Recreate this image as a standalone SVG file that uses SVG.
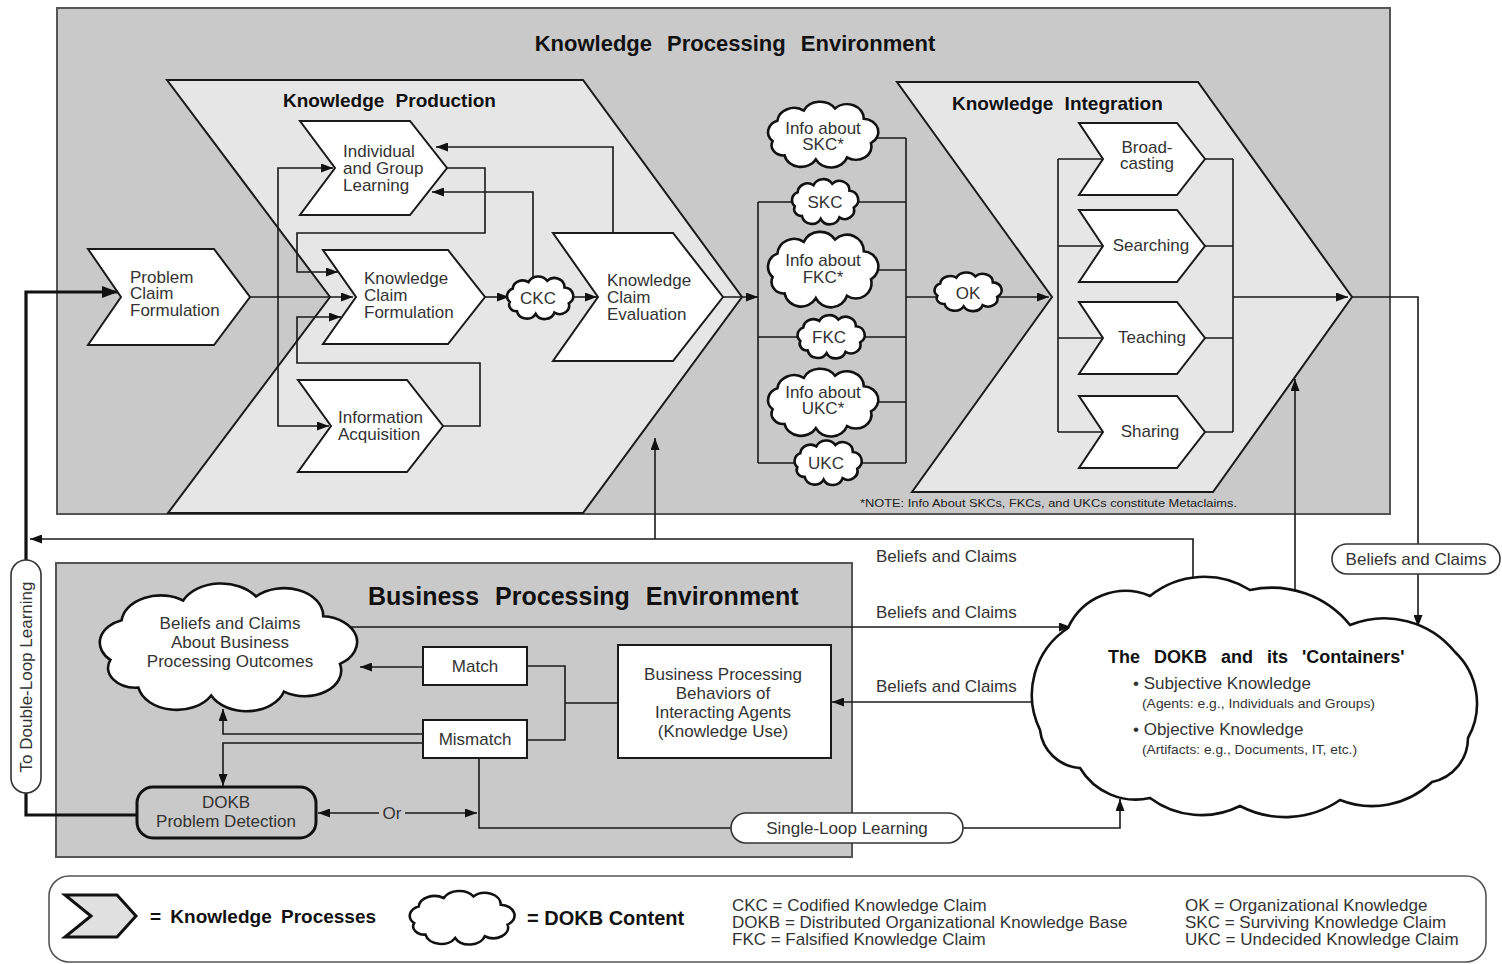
<svg xmlns="http://www.w3.org/2000/svg" xmlns:xlink="http://www.w3.org/1999/xlink" width="1502" height="964" viewBox="0 0 1502 964">
  <defs>
    <style>
      .ln{fill:none;stroke:#1a1a1a;stroke-width:1.6}
      .thick{fill:none;stroke:#111;stroke-width:3.2}
      .chev{fill:#fff;stroke:#1a1a1a;stroke-width:2}
      .big{fill:#e6e6e6;stroke:#1a1a1a;stroke-width:2}
      .env{fill:#c9c9c9;stroke:#555;stroke-width:2}
      .box{fill:#fff;stroke:#1a1a1a;stroke-width:2}
      .pill{fill:#fff;stroke:#333;stroke-width:1.6}
      .cl{fill:#fff;stroke:#111;stroke-width:2.6}
      .t{font-family:"Liberation Sans",Arial,sans-serif;font-size:17px;fill:#333}
      .c{text-anchor:middle}
      .b{font-weight:bold;fill:#111}
      .sm{font-size:12px}
    </style>
    <marker id="ah" markerUnits="userSpaceOnUse" markerWidth="12" markerHeight="9" refX="12" refY="4.5" orient="auto">
      <path d="M0,0 L12,4.5 L0,9 z" fill="#111"/>
    </marker>
    <marker id="ahb" markerUnits="userSpaceOnUse" markerWidth="16" markerHeight="12" refX="16" refY="6" orient="auto">
      <path d="M0,0 L16,6 L0,12 z" fill="#111"/>
    </marker>
    <!-- unit cloud centred on the origin, about 92 x 64 -->
    <path id="cloud" d="M-42,6 A12,12 0 0 1 -38,-14 A14,14 0 0 1 -16,-24 A15,15 0 0 1 10,-26 A14,14 0 0 1 34,-16 A13,13 0 0 1 40,8 A13,13 0 0 1 20,22 A14,14 0 0 1 -6,24 A14,14 0 0 1 -32,20 A10,10 0 0 1 -42,6 Z" vector-effect="non-scaling-stroke"/>
  </defs>

  <rect width="1502" height="964" fill="#fff"/>

  <!-- Knowledge Processing Environment container -->
  <g id="kpe">
    <rect class="env" x="57" y="8" width="1333" height="506"/>
    <text class="t b c" x="735" y="51" style="font-size:22px" word-spacing="9">Knowledge Processing Environment</text>
  </g>

  <!-- Knowledge Production stage -->
  <g id="knowledge-production">
    <polygon class="big" points="167,80 583,80 742,297 583,513 168,513 330,297"/>
    <text class="t b" x="283" y="107" style="font-size:19px" word-spacing="6">Knowledge Production</text>
  </g>

  <!-- Knowledge Integration stage -->
  <g id="knowledge-integration">
    <polygon class="big" points="897,82 1198,82 1352,297 1213,492 912,492 1052,297"/>
    <text class="t b" x="952" y="110" style="font-size:19px" word-spacing="6">Knowledge Integration</text>
  </g>
  <text class="t" x="860" y="507" style="font-size:11px;fill:#222" textLength="377" lengthAdjust="spacingAndGlyphs">*NOTE: Info About SKCs, FKCs, and UKCs constitute Metaclaims.</text>

  <!-- Business Processing Environment container -->
  <g id="bpe">
    <rect class="env" x="56" y="563" width="796" height="294"/>
    <text class="t b" x="368" y="605" style="font-size:25px" word-spacing="9">Business Processing Environment</text>
  </g>

  <!-- connectors -->
  <g id="connectors">
    <!-- inside Knowledge Production -->
    <path class="ln" d="M250,297 H353" marker-end="url(#ah)"/>
    <path class="ln" d="M278,297 V168 H333" marker-end="url(#ah)"/>
    <path class="ln" d="M278,297 V426 H329" marker-end="url(#ah)"/>
    <path class="ln" d="M447,168 H485 V233 H297 V272 H338" marker-end="url(#ah)"/>
    <path class="ln" d="M443,426 H480 V363 H297 V317 H341" marker-end="url(#ah)"/>
    <path class="ln" d="M485,297 H509" marker-end="url(#ah)"/>
    <path class="ln" d="M570,297 H597" marker-end="url(#ah)"/>
    <path class="ln" d="M533,285 V192 H432" marker-end="url(#ah)"/>
    <path class="ln" d="M613,233 V147 H436" marker-end="url(#ah)"/>
    <path class="ln" d="M723,297 H758" marker-end="url(#ah)"/>

    <!-- claim bracket -->
    <path class="ln" d="M758,202 V463 M758,202 H800 M758,337 H805 M758,463 H805"/>
    <path class="ln" d="M906,138 V463 M860,138 H906 M845,202 H906 M860,270 H906 M850,337 H906 M860,402 H906 M850,463 H906"/>
    <path class="ln" d="M906,297 H945"/>
    <path class="ln" d="M995,297 H1049" marker-end="url(#ah)"/>

    <!-- inside Knowledge Integration -->
    <path class="ln" d="M1058,159 V432 M1058,159 H1103 M1058,246 H1103 M1058,338 H1103 M1058,432 H1103"/>
    <path class="ln" d="M1233,159 V432 M1205,159 H1233 M1205,246 H1233 M1205,338 H1233 M1205,432 H1233"/>
    <path class="ln" d="M1233,297 H1348" marker-end="url(#ah)"/>
    <path class="ln" d="M1352,297 H1418 V627" marker-end="url(#ah)"/>

    <!-- between environments and the DOKB -->
    <path class="ln" d="M1295,610 V379" marker-end="url(#ah)"/>
    <path class="ln" d="M1193,600 V539 H30" marker-end="url(#ah)"/>
    <path class="ln" d="M655,539 V438" marker-end="url(#ah)"/>
    <path class="thick" d="M138,815 H26 V292 H118" marker-end="url(#ahb)"/>
    <path class="ln" d="M340,627 H1071" marker-end="url(#ah)"/>
    <path class="ln" d="M1060,702 H832" marker-end="url(#ah)"/>

    <!-- inside Business Processing -->
    <path class="ln" d="M423,667 H360" marker-end="url(#ah)"/>
    <path class="ln" d="M423,734 H223 V709" marker-end="url(#ah)"/>
    <path class="ln" d="M423,743 H223 V786" marker-end="url(#ah)"/>
    <path class="ln" d="M527,666 H565 V740 H527 M565,703 H618"/>
    <path class="ln" d="M379,813 H318" marker-end="url(#ah)"/>
    <path class="ln" d="M405,813 H477" marker-end="url(#ah)"/>
    <path class="ln" d="M479,758 V828 H1120 V799" marker-end="url(#ah)"/>

    <text class="t" x="392" y="819" style="text-anchor:middle">Or</text>
    <text class="t" x="876" y="562">Beliefs and Claims</text>
    <text class="t" x="876" y="618">Beliefs and Claims</text>
    <text class="t" x="876" y="692">Beliefs and Claims</text>
  </g>

  <!-- knowledge process nodes -->
  <g id="problem-claim-formulation">
    <polygon class="chev" points="88,249 214,249 250,297 214,345 88,345 121,297"/>
    <text class="t" x="130" y="283">Problem</text>
    <text class="t" x="130" y="299">Claim</text>
    <text class="t" x="130" y="316">Formulation</text>
  </g>
  <g id="individual-group-learning">
    <polygon class="chev" points="300,121 410,121 447,168 410,215 300,215 335,168"/>
    <text class="t" x="343" y="157">Individual</text>
    <text class="t" x="343" y="174">and Group</text>
    <text class="t" x="343" y="191">Learning</text>
  </g>
  <g id="knowledge-claim-formulation">
    <polygon class="chev" points="323,250 448,250 485,297 448,344 323,344 356,297"/>
    <text class="t" x="364" y="284">Knowledge</text>
    <text class="t" x="364" y="301">Claim</text>
    <text class="t" x="364" y="318">Formulation</text>
  </g>
  <g id="information-acquisition">
    <polygon class="chev" points="298,380 407,380 443,426 407,472 298,472 331,426"/>
    <text class="t" x="338" y="423">Information</text>
    <text class="t" x="338" y="440">Acquisition</text>
  </g>
  <g id="knowledge-claim-evaluation">
    <polygon class="chev" points="553,233 673,233 723,297 673,361 553,361 598,297"/>
    <text class="t" x="607" y="286">Knowledge</text>
    <text class="t" x="607" y="303">Claim</text>
    <text class="t" x="607" y="320">Evaluation</text>
  </g>
  <g id="broadcasting">
    <polygon class="chev" points="1079,123 1177,123 1205,159 1177,195 1079,195 1103,159"/>
    <text class="t c" x="1147" y="153">Broad-</text>
    <text class="t c" x="1147" y="169">casting</text>
  </g>
  <g id="searching">
    <polygon class="chev" points="1079,210 1177,210 1205,246 1177,282 1079,282 1103,246"/>
    <text class="t c" x="1151" y="251">Searching</text>
  </g>
  <g id="teaching">
    <polygon class="chev" points="1079,302 1177,302 1205,338 1177,374 1079,374 1103,338"/>
    <text class="t c" x="1152" y="343">Teaching</text>
  </g>
  <g id="sharing">
    <polygon class="chev" points="1079,396 1177,396 1205,432 1177,468 1079,468 1103,432"/>
    <text class="t c" x="1150" y="437">Sharing</text>
  </g>

  <!-- DOKB content clouds -->
  <g id="ckc">
    <use xlink:href="#cloud" href="#cloud" class="cl" transform="translate(540,298) scale(0.72,0.66)"/>
    <text class="t c" x="538" y="304">CKC</text>
  </g>
  <g id="info-skc">
    <use xlink:href="#cloud" href="#cloud" class="cl" transform="translate(823,135) scale(1.2,1.02)"/>
    <text class="t c" x="823" y="134">Info about</text>
    <text class="t c" x="823" y="150">SKC*</text>
  </g>
  <g id="skc">
    <use xlink:href="#cloud" href="#cloud" class="cl" transform="translate(825,202) scale(0.72,0.7)"/>
    <text class="t c" x="825" y="208">SKC</text>
  </g>
  <g id="info-fkc">
    <use xlink:href="#cloud" href="#cloud" class="cl" transform="translate(823,270) scale(1.2,1.17)"/>
    <text class="t c" x="823" y="266">Info about</text>
    <text class="t c" x="823" y="283">FKC*</text>
  </g>
  <g id="fkc">
    <use xlink:href="#cloud" href="#cloud" class="cl" transform="translate(831,337) scale(0.73,0.67)"/>
    <text class="t c" x="829" y="343">FKC</text>
  </g>
  <g id="info-ukc">
    <use xlink:href="#cloud" href="#cloud" class="cl" transform="translate(823,403) scale(1.2,1.05)"/>
    <text class="t c" x="823" y="398">Info about</text>
    <text class="t c" x="823" y="414">UKC*</text>
  </g>
  <g id="ukc">
    <use xlink:href="#cloud" href="#cloud" class="cl" transform="translate(828,463) scale(0.73,0.69)"/>
    <text class="t c" x="826" y="469">UKC</text>
  </g>
  <g id="ok">
    <use xlink:href="#cloud" href="#cloud" class="cl" transform="translate(968,292) scale(0.73,0.6)"/>
    <text class="t c" x="968" y="299">OK</text>
  </g>

  <!-- business processing nodes -->
  <g id="beliefs-outcomes">
    <use xlink:href="#cloud" href="#cloud" class="cl" transform="translate(228,648) scale(2.8,1.98)"/>
    <text class="t c" x="230" y="629">Beliefs and Claims</text>
    <text class="t c" x="230" y="648">About Business</text>
    <text class="t c" x="230" y="667">Processing Outcomes</text>
  </g>
  <g id="match">
    <rect class="box" x="423" y="647" width="104" height="38"/>
    <text class="t c" x="475" y="672">Match</text>
  </g>
  <g id="mismatch">
    <rect class="box" x="423" y="720" width="104" height="38"/>
    <text class="t c" x="475" y="745">Mismatch</text>
  </g>
  <g id="business-behaviors">
    <rect class="box" x="618" y="645" width="213" height="113"/>
    <text class="t c" x="723" y="680">Business Processing</text>
    <text class="t c" x="723" y="699">Behaviors of</text>
    <text class="t c" x="723" y="718">Interacting Agents</text>
    <text class="t c" x="723" y="737">(Knowledge Use)</text>
  </g>
  <g id="problem-detection">
    <rect x="137" y="787" width="179" height="51" rx="16" fill="#c9c9c9" stroke="#111" stroke-width="3"/>
    <text class="t c" x="226" y="808">DOKB</text>
    <text class="t c" x="226" y="827">Problem Detection</text>
  </g>

  <!-- DOKB -->
  <g id="dokb">
    <path class="cl" stroke-width="3.5" d="M1040,730 A80,80 0 0 1 1068,628 A63,63 0 0 1 1150,596 A86,86 0 0 1 1250,590 A101,101 0 0 1 1350,625 A91,91 0 0 1 1455,652 A71,71 0 0 1 1468,738 A45,45 0 0 1 1432,782 A87,87 0 0 1 1340,800 A97,97 0 0 1 1240,806 A86,86 0 0 1 1150,798 A65,65 0 0 1 1080,768 A43,43 0 0 1 1040,730 Z"/>
    <text class="t b" x="1108" y="663" style="font-size:18px" word-spacing="9">The DOKB and its 'Containers'</text>
    <text class="t" x="1133" y="689">• Subjective Knowledge</text>
    <text class="t sm" x="1142" y="708" textLength="233" lengthAdjust="spacingAndGlyphs">(Agents: e.g., Individuals and Groups)</text>
    <text class="t" x="1133" y="735">• Objective Knowledge</text>
    <text class="t sm" x="1142" y="754" textLength="215" lengthAdjust="spacingAndGlyphs">(Artifacts: e.g., Documents, IT, etc.)</text>
  </g>

  <!-- learning labels -->
  <g id="beliefs-claims-pill">
    <rect class="pill" x="1332" y="544" width="168" height="30" rx="15"/>
    <text class="t c" x="1416" y="565">Beliefs and Claims</text>
  </g>
  <g id="single-loop">
    <rect class="pill" x="731" y="813" width="232" height="30" rx="15"/>
    <text class="t c" x="847" y="834">Single-Loop Learning</text>
  </g>
  <g id="double-loop">
    <rect class="pill" x="11" y="560" width="30" height="233" rx="15"/>
    <text class="t c" transform="translate(32,677) rotate(-90)">To Double-Loop Learning</text>
  </g>

  <!-- key -->
  <g id="legend">
    <rect x="49" y="876" width="1437" height="86" rx="20" fill="#fff" stroke="#555" stroke-width="1.6"/>
    <polygon points="65,895 117,895 136,916 117,937 65,937 91,916" fill="#e0e0e0" stroke="#111" stroke-width="3"/>
    <text class="t b" x="150" y="923" style="font-size:19px" word-spacing="4">= Knowledge Processes</text>
    <use xlink:href="#cloud" href="#cloud" class="cl" transform="translate(462,918) scale(1.14,0.83)"/>
    <text class="t b" x="527" y="925" style="font-size:20px">= DOKB Content</text>
    <text class="t" x="732" y="911">CKC = Codified Knowledge Claim</text>
    <text class="t" x="732" y="928">DOKB = Distributed Organizational Knowledge Base</text>
    <text class="t" x="732" y="945">FKC = Falsified Knowledge Claim</text>
    <text class="t" x="1185" y="911">OK = Organizational Knowledge</text>
    <text class="t" x="1185" y="928">SKC = Surviving Knowledge Claim</text>
    <text class="t" x="1185" y="945">UKC = Undecided Knowledge Claim</text>
  </g>
</svg>
